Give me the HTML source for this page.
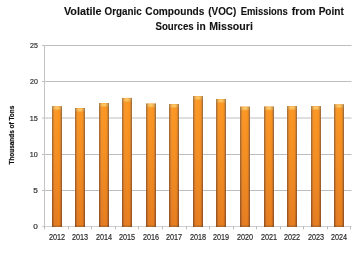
<!DOCTYPE html>
<html><head><meta charset="utf-8">
<style>
html,body{margin:0;padding:0;background:#fff;width:360px;height:270px;overflow:hidden}
svg{display:block;will-change:transform}
text{font-family:"Liberation Sans",sans-serif}
.t{font-weight:bold;font-size:10.4px;fill:#111;stroke:#111;stroke-width:0.1px}
.yl{font-size:7.9px;fill:#2a2a2a;stroke:#2a2a2a;stroke-width:0.18px}
.xl{font-size:8.2px;fill:#2a2a2a;stroke:#2a2a2a;stroke-width:0.18px}
.ya{font-weight:bold;font-size:6.8px;fill:#111;stroke:#111;stroke-width:0.2px}
</style></head><body>
<svg width="360" height="270" viewBox="0 0 360 270">
<defs>
<linearGradient id="c0" gradientUnits="userSpaceOnUse" x1="0" y1="96" x2="0" y2="227"><stop offset="0" stop-color="#b07438"/><stop offset="0.45" stop-color="#a8682f"/><stop offset="1" stop-color="#9a5420"/></linearGradient>
<linearGradient id="c1" gradientUnits="userSpaceOnUse" x1="0" y1="96" x2="0" y2="227"><stop offset="0" stop-color="#da8a30"/><stop offset="0.45" stop-color="#d17e2b"/><stop offset="1" stop-color="#c26a24"/></linearGradient>
<linearGradient id="c2" gradientUnits="userSpaceOnUse" x1="0" y1="96" x2="0" y2="227"><stop offset="0" stop-color="#f8982a"/><stop offset="0.45" stop-color="#ee8d28"/><stop offset="1" stop-color="#de7a26"/></linearGradient>
<linearGradient id="c3" gradientUnits="userSpaceOnUse" x1="0" y1="96" x2="0" y2="227"><stop offset="0" stop-color="#fc9a28"/><stop offset="0.45" stop-color="#f28f26"/><stop offset="1" stop-color="#e27c24"/></linearGradient>
<linearGradient id="c4" gradientUnits="userSpaceOnUse" x1="0" y1="96" x2="0" y2="227"><stop offset="0" stop-color="#fd9a26"/><stop offset="0.45" stop-color="#f48f24"/><stop offset="1" stop-color="#e47c22"/></linearGradient>
<linearGradient id="c5" gradientUnits="userSpaceOnUse" x1="0" y1="96" x2="0" y2="227"><stop offset="0" stop-color="#fd9924"/><stop offset="0.45" stop-color="#f48f22"/><stop offset="1" stop-color="#e67e20"/></linearGradient>
<linearGradient id="c6" gradientUnits="userSpaceOnUse" x1="0" y1="96" x2="0" y2="227"><stop offset="0" stop-color="#fc9822"/><stop offset="0.45" stop-color="#f48e20"/><stop offset="1" stop-color="#e67e1e"/></linearGradient>
<linearGradient id="c7" gradientUnits="userSpaceOnUse" x1="0" y1="96" x2="0" y2="227"><stop offset="0" stop-color="#f89422"/><stop offset="0.45" stop-color="#f08a20"/><stop offset="1" stop-color="#e27a1e"/></linearGradient>
<linearGradient id="c8" gradientUnits="userSpaceOnUse" x1="0" y1="96" x2="0" y2="227"><stop offset="0" stop-color="#da8830"/><stop offset="0.45" stop-color="#d17d2b"/><stop offset="1" stop-color="#c26a22"/></linearGradient>
<linearGradient id="c9" gradientUnits="userSpaceOnUse" x1="0" y1="96" x2="0" y2="227"><stop offset="0" stop-color="#a87038"/><stop offset="0.45" stop-color="#a2652f"/><stop offset="1" stop-color="#985420"/></linearGradient>
<linearGradient id="caph" x1="0" y1="0" x2="1" y2="0"><stop offset="0" stop-color="#9a7a48"/><stop offset="0.15" stop-color="#d4a058"/><stop offset="0.3" stop-color="#fac868"/><stop offset="0.6" stop-color="#fdd272"/><stop offset="0.85" stop-color="#d4a058"/><stop offset="1" stop-color="#967444"/></linearGradient>
<linearGradient id="capv" x1="0" y1="0" x2="0" y2="1"><stop offset="0" stop-color="#fff" stop-opacity="0.45"/><stop offset="0.42" stop-color="#fff" stop-opacity="1"/><stop offset="1" stop-color="#fff" stop-opacity="0"/></linearGradient>
<mask id="capm" maskContentUnits="objectBoundingBox"><rect x="0" y="0" width="1" height="1" fill="url(#capv)"/></mask>
</defs>
<text x="63.91" y="15" class="t" textLength="37.71" lengthAdjust="spacingAndGlyphs">Volatile</text>
<text x="104.59" y="15" class="t" textLength="37.22" lengthAdjust="spacingAndGlyphs">Organic</text>
<text x="145.37" y="15" class="t" textLength="59.04" lengthAdjust="spacingAndGlyphs">Compounds</text>
<text x="208.26" y="15" class="t" textLength="28.03" lengthAdjust="spacingAndGlyphs">(VOC)</text>
<text x="240.63" y="15" class="t" textLength="47.25" lengthAdjust="spacingAndGlyphs">Emissions</text>
<text x="291.81" y="15" class="t" textLength="23.84" lengthAdjust="spacingAndGlyphs">from</text>
<text x="318.63" y="15" class="t" textLength="25.25" lengthAdjust="spacingAndGlyphs">Point</text>
<text x="155.51" y="29.7" class="t" textLength="38.18" lengthAdjust="spacingAndGlyphs">Sources</text>
<text x="196.59" y="29.7" class="t" textLength="9.05" lengthAdjust="spacingAndGlyphs">in</text>
<text x="209.30" y="29.7" class="t" textLength="43.54" lengthAdjust="spacingAndGlyphs">Missouri</text>
<text transform="translate(13.9,164.48) rotate(-90)" x="0" y="0" class="ya" textLength="58.73" lengthAdjust="spacingAndGlyphs">Thousands of Tons</text>
<line x1="42" y1="226.5" x2="44.5" y2="226.5" stroke="#bebec2" stroke-width="1"/>
<text x="33.37" y="229.30" class="yl" textLength="4.54" lengthAdjust="spacingAndGlyphs">0</text>
<line x1="42" y1="190.5" x2="351.5" y2="190.5" stroke="#bebec2" stroke-width="1"/>
<text x="33.37" y="193.30" class="yl" textLength="4.58" lengthAdjust="spacingAndGlyphs">5</text>
<line x1="42" y1="154.5" x2="351.5" y2="154.5" stroke="#bebec2" stroke-width="1"/>
<text x="29.85" y="157.30" class="yl" textLength="8.02" lengthAdjust="spacingAndGlyphs">10</text>
<line x1="42" y1="118" x2="351.5" y2="118" stroke="#bebec2" stroke-width="1"/>
<text x="29.85" y="120.80" class="yl" textLength="8.06" lengthAdjust="spacingAndGlyphs">15</text>
<line x1="42" y1="81.5" x2="351.5" y2="81.5" stroke="#bebec2" stroke-width="1"/>
<text x="30.05" y="84.30" class="yl" textLength="7.82" lengthAdjust="spacingAndGlyphs">20</text>
<line x1="42" y1="45.5" x2="351.5" y2="45.5" stroke="#bebec2" stroke-width="1"/>
<text x="30.05" y="48.30" class="yl" textLength="7.85" lengthAdjust="spacingAndGlyphs">25</text>
<line x1="44.5" y1="45" x2="44.5" y2="227" stroke="#c4c4c4" stroke-width="1"/>
<line x1="42" y1="226.5" x2="351.5" y2="226.5" stroke="#d0d0d4" stroke-width="1"/>
<line x1="44.5" y1="226" x2="44.5" y2="229.3" stroke="#bcbcbc" stroke-width="1"/>
<line x1="68.5" y1="226" x2="68.5" y2="229.3" stroke="#bcbcbc" stroke-width="1"/>
<line x1="91.5" y1="226" x2="91.5" y2="229.3" stroke="#bcbcbc" stroke-width="1"/>
<line x1="115.5" y1="226" x2="115.5" y2="229.3" stroke="#bcbcbc" stroke-width="1"/>
<line x1="138.5" y1="226" x2="138.5" y2="229.3" stroke="#bcbcbc" stroke-width="1"/>
<line x1="162.5" y1="226" x2="162.5" y2="229.3" stroke="#bcbcbc" stroke-width="1"/>
<line x1="186.5" y1="226" x2="186.5" y2="229.3" stroke="#bcbcbc" stroke-width="1"/>
<line x1="209.5" y1="226" x2="209.5" y2="229.3" stroke="#bcbcbc" stroke-width="1"/>
<line x1="233.5" y1="226" x2="233.5" y2="229.3" stroke="#bcbcbc" stroke-width="1"/>
<line x1="256.5" y1="226" x2="256.5" y2="229.3" stroke="#bcbcbc" stroke-width="1"/>
<line x1="280.5" y1="226" x2="280.5" y2="229.3" stroke="#bcbcbc" stroke-width="1"/>
<line x1="303.5" y1="226" x2="303.5" y2="229.3" stroke="#bcbcbc" stroke-width="1"/>
<line x1="327.5" y1="226" x2="327.5" y2="229.3" stroke="#bcbcbc" stroke-width="1"/>
<line x1="350.5" y1="226" x2="350.5" y2="229.3" stroke="#bcbcbc" stroke-width="1"/>
<rect x="52" y="106.20" width="1" height="120.80" fill="url(#c0)"/>
<rect x="53" y="106.20" width="1" height="120.80" fill="url(#c1)"/>
<rect x="54" y="106.20" width="1" height="120.80" fill="url(#c2)"/>
<rect x="55" y="106.20" width="1" height="120.80" fill="url(#c3)"/>
<rect x="56" y="106.20" width="1" height="120.80" fill="url(#c4)"/>
<rect x="57" y="106.20" width="1" height="120.80" fill="url(#c5)"/>
<rect x="58" y="106.20" width="1" height="120.80" fill="url(#c6)"/>
<rect x="59" y="106.20" width="1" height="120.80" fill="url(#c7)"/>
<rect x="60" y="106.20" width="1" height="120.80" fill="url(#c8)"/>
<rect x="61" y="106.20" width="1" height="120.80" fill="url(#c9)"/>
<rect x="52" y="106.20" width="10" height="4.5" fill="url(#caph)" mask="url(#capm)"/>
<rect x="52" y="225.5" width="10" height="1.5" fill="#6a4a30" fill-opacity="0.35"/>
<text x="48.89" y="240.1" class="xl" textLength="16.23" lengthAdjust="spacingAndGlyphs">2012</text>
<rect x="75" y="108.00" width="1" height="119.00" fill="url(#c0)"/>
<rect x="76" y="108.00" width="1" height="119.00" fill="url(#c1)"/>
<rect x="77" y="108.00" width="1" height="119.00" fill="url(#c2)"/>
<rect x="78" y="108.00" width="1" height="119.00" fill="url(#c3)"/>
<rect x="79" y="108.00" width="1" height="119.00" fill="url(#c4)"/>
<rect x="80" y="108.00" width="1" height="119.00" fill="url(#c5)"/>
<rect x="81" y="108.00" width="1" height="119.00" fill="url(#c6)"/>
<rect x="82" y="108.00" width="1" height="119.00" fill="url(#c7)"/>
<rect x="83" y="108.00" width="1" height="119.00" fill="url(#c8)"/>
<rect x="84" y="108.00" width="1" height="119.00" fill="url(#c9)"/>
<rect x="75" y="108.00" width="10" height="4.5" fill="url(#caph)" mask="url(#capm)"/>
<rect x="75" y="225.5" width="10" height="1.5" fill="#6a4a30" fill-opacity="0.35"/>
<text x="71.89" y="240.1" class="xl" textLength="16.19" lengthAdjust="spacingAndGlyphs">2013</text>
<rect x="99" y="103.10" width="1" height="123.90" fill="url(#c0)"/>
<rect x="100" y="103.10" width="1" height="123.90" fill="url(#c1)"/>
<rect x="101" y="103.10" width="1" height="123.90" fill="url(#c2)"/>
<rect x="102" y="103.10" width="1" height="123.90" fill="url(#c3)"/>
<rect x="103" y="103.10" width="1" height="123.90" fill="url(#c4)"/>
<rect x="104" y="103.10" width="1" height="123.90" fill="url(#c5)"/>
<rect x="105" y="103.10" width="1" height="123.90" fill="url(#c6)"/>
<rect x="106" y="103.10" width="1" height="123.90" fill="url(#c7)"/>
<rect x="107" y="103.10" width="1" height="123.90" fill="url(#c8)"/>
<rect x="108" y="103.10" width="1" height="123.90" fill="url(#c9)"/>
<rect x="99" y="103.10" width="10" height="4.5" fill="url(#caph)" mask="url(#capm)"/>
<rect x="99" y="225.5" width="10" height="1.5" fill="#6a4a30" fill-opacity="0.35"/>
<text x="95.89" y="240.1" class="xl" textLength="16.08" lengthAdjust="spacingAndGlyphs">2014</text>
<rect x="122" y="97.90" width="1" height="129.10" fill="url(#c0)"/>
<rect x="123" y="97.90" width="1" height="129.10" fill="url(#c1)"/>
<rect x="124" y="97.90" width="1" height="129.10" fill="url(#c2)"/>
<rect x="125" y="97.90" width="1" height="129.10" fill="url(#c3)"/>
<rect x="126" y="97.90" width="1" height="129.10" fill="url(#c4)"/>
<rect x="127" y="97.90" width="1" height="129.10" fill="url(#c5)"/>
<rect x="128" y="97.90" width="1" height="129.10" fill="url(#c6)"/>
<rect x="129" y="97.90" width="1" height="129.10" fill="url(#c7)"/>
<rect x="130" y="97.90" width="1" height="129.10" fill="url(#c8)"/>
<rect x="131" y="97.90" width="1" height="129.10" fill="url(#c9)"/>
<rect x="122" y="97.90" width="10" height="4.5" fill="url(#caph)" mask="url(#capm)"/>
<rect x="122" y="225.5" width="10" height="1.5" fill="#6a4a30" fill-opacity="0.35"/>
<text x="118.89" y="240.1" class="xl" textLength="16.17" lengthAdjust="spacingAndGlyphs">2015</text>
<rect x="146" y="103.50" width="1" height="123.50" fill="url(#c0)"/>
<rect x="147" y="103.50" width="1" height="123.50" fill="url(#c1)"/>
<rect x="148" y="103.50" width="1" height="123.50" fill="url(#c2)"/>
<rect x="149" y="103.50" width="1" height="123.50" fill="url(#c3)"/>
<rect x="150" y="103.50" width="1" height="123.50" fill="url(#c4)"/>
<rect x="151" y="103.50" width="1" height="123.50" fill="url(#c5)"/>
<rect x="152" y="103.50" width="1" height="123.50" fill="url(#c6)"/>
<rect x="153" y="103.50" width="1" height="123.50" fill="url(#c7)"/>
<rect x="154" y="103.50" width="1" height="123.50" fill="url(#c8)"/>
<rect x="155" y="103.50" width="1" height="123.50" fill="url(#c9)"/>
<rect x="146" y="103.50" width="10" height="4.5" fill="url(#caph)" mask="url(#capm)"/>
<rect x="146" y="225.5" width="10" height="1.5" fill="#6a4a30" fill-opacity="0.35"/>
<text x="142.89" y="240.1" class="xl" textLength="16.19" lengthAdjust="spacingAndGlyphs">2016</text>
<rect x="169" y="104.00" width="1" height="123.00" fill="url(#c0)"/>
<rect x="170" y="104.00" width="1" height="123.00" fill="url(#c1)"/>
<rect x="171" y="104.00" width="1" height="123.00" fill="url(#c2)"/>
<rect x="172" y="104.00" width="1" height="123.00" fill="url(#c3)"/>
<rect x="173" y="104.00" width="1" height="123.00" fill="url(#c4)"/>
<rect x="174" y="104.00" width="1" height="123.00" fill="url(#c5)"/>
<rect x="175" y="104.00" width="1" height="123.00" fill="url(#c6)"/>
<rect x="176" y="104.00" width="1" height="123.00" fill="url(#c7)"/>
<rect x="177" y="104.00" width="1" height="123.00" fill="url(#c8)"/>
<rect x="178" y="104.00" width="1" height="123.00" fill="url(#c9)"/>
<rect x="169" y="104.00" width="10" height="4.5" fill="url(#caph)" mask="url(#capm)"/>
<rect x="169" y="225.5" width="10" height="1.5" fill="#6a4a30" fill-opacity="0.35"/>
<text x="165.89" y="240.1" class="xl" textLength="16.23" lengthAdjust="spacingAndGlyphs">2017</text>
<rect x="193" y="96.10" width="1" height="130.90" fill="url(#c0)"/>
<rect x="194" y="96.10" width="1" height="130.90" fill="url(#c1)"/>
<rect x="195" y="96.10" width="1" height="130.90" fill="url(#c2)"/>
<rect x="196" y="96.10" width="1" height="130.90" fill="url(#c3)"/>
<rect x="197" y="96.10" width="1" height="130.90" fill="url(#c4)"/>
<rect x="198" y="96.10" width="1" height="130.90" fill="url(#c5)"/>
<rect x="199" y="96.10" width="1" height="130.90" fill="url(#c6)"/>
<rect x="200" y="96.10" width="1" height="130.90" fill="url(#c7)"/>
<rect x="201" y="96.10" width="1" height="130.90" fill="url(#c8)"/>
<rect x="202" y="96.10" width="1" height="130.90" fill="url(#c9)"/>
<rect x="193" y="96.10" width="10" height="4.5" fill="url(#caph)" mask="url(#capm)"/>
<rect x="193" y="225.5" width="10" height="1.5" fill="#6a4a30" fill-opacity="0.35"/>
<text x="189.89" y="240.1" class="xl" textLength="16.19" lengthAdjust="spacingAndGlyphs">2018</text>
<rect x="216" y="99.00" width="1" height="128.00" fill="url(#c0)"/>
<rect x="217" y="99.00" width="1" height="128.00" fill="url(#c1)"/>
<rect x="218" y="99.00" width="1" height="128.00" fill="url(#c2)"/>
<rect x="219" y="99.00" width="1" height="128.00" fill="url(#c3)"/>
<rect x="220" y="99.00" width="1" height="128.00" fill="url(#c4)"/>
<rect x="221" y="99.00" width="1" height="128.00" fill="url(#c5)"/>
<rect x="222" y="99.00" width="1" height="128.00" fill="url(#c6)"/>
<rect x="223" y="99.00" width="1" height="128.00" fill="url(#c7)"/>
<rect x="224" y="99.00" width="1" height="128.00" fill="url(#c8)"/>
<rect x="225" y="99.00" width="1" height="128.00" fill="url(#c9)"/>
<rect x="216" y="99.00" width="10" height="4.5" fill="url(#caph)" mask="url(#capm)"/>
<rect x="216" y="225.5" width="10" height="1.5" fill="#6a4a30" fill-opacity="0.35"/>
<text x="212.89" y="240.1" class="xl" textLength="16.22" lengthAdjust="spacingAndGlyphs">2019</text>
<rect x="240" y="106.60" width="1" height="120.40" fill="url(#c0)"/>
<rect x="241" y="106.60" width="1" height="120.40" fill="url(#c1)"/>
<rect x="242" y="106.60" width="1" height="120.40" fill="url(#c2)"/>
<rect x="243" y="106.60" width="1" height="120.40" fill="url(#c3)"/>
<rect x="244" y="106.60" width="1" height="120.40" fill="url(#c4)"/>
<rect x="245" y="106.60" width="1" height="120.40" fill="url(#c5)"/>
<rect x="246" y="106.60" width="1" height="120.40" fill="url(#c6)"/>
<rect x="247" y="106.60" width="1" height="120.40" fill="url(#c7)"/>
<rect x="248" y="106.60" width="1" height="120.40" fill="url(#c8)"/>
<rect x="249" y="106.60" width="1" height="120.40" fill="url(#c9)"/>
<rect x="240" y="106.60" width="10" height="4.5" fill="url(#caph)" mask="url(#capm)"/>
<rect x="240" y="225.5" width="10" height="1.5" fill="#6a4a30" fill-opacity="0.35"/>
<text x="236.89" y="240.1" class="xl" textLength="16.14" lengthAdjust="spacingAndGlyphs">2020</text>
<rect x="264" y="106.50" width="1" height="120.50" fill="url(#c0)"/>
<rect x="265" y="106.50" width="1" height="120.50" fill="url(#c1)"/>
<rect x="266" y="106.50" width="1" height="120.50" fill="url(#c2)"/>
<rect x="267" y="106.50" width="1" height="120.50" fill="url(#c3)"/>
<rect x="268" y="106.50" width="1" height="120.50" fill="url(#c4)"/>
<rect x="269" y="106.50" width="1" height="120.50" fill="url(#c5)"/>
<rect x="270" y="106.50" width="1" height="120.50" fill="url(#c6)"/>
<rect x="271" y="106.50" width="1" height="120.50" fill="url(#c7)"/>
<rect x="272" y="106.50" width="1" height="120.50" fill="url(#c8)"/>
<rect x="273" y="106.50" width="1" height="120.50" fill="url(#c9)"/>
<rect x="264" y="106.50" width="10" height="4.5" fill="url(#caph)" mask="url(#capm)"/>
<rect x="264" y="225.5" width="10" height="1.5" fill="#6a4a30" fill-opacity="0.35"/>
<text x="260.89" y="240.1" class="xl" textLength="16.22" lengthAdjust="spacingAndGlyphs">2021</text>
<rect x="287" y="106.00" width="1" height="121.00" fill="url(#c0)"/>
<rect x="288" y="106.00" width="1" height="121.00" fill="url(#c1)"/>
<rect x="289" y="106.00" width="1" height="121.00" fill="url(#c2)"/>
<rect x="290" y="106.00" width="1" height="121.00" fill="url(#c3)"/>
<rect x="291" y="106.00" width="1" height="121.00" fill="url(#c4)"/>
<rect x="292" y="106.00" width="1" height="121.00" fill="url(#c5)"/>
<rect x="293" y="106.00" width="1" height="121.00" fill="url(#c6)"/>
<rect x="294" y="106.00" width="1" height="121.00" fill="url(#c7)"/>
<rect x="295" y="106.00" width="1" height="121.00" fill="url(#c8)"/>
<rect x="296" y="106.00" width="1" height="121.00" fill="url(#c9)"/>
<rect x="287" y="106.00" width="10" height="4.5" fill="url(#caph)" mask="url(#capm)"/>
<rect x="287" y="225.5" width="10" height="1.5" fill="#6a4a30" fill-opacity="0.35"/>
<text x="283.89" y="240.1" class="xl" textLength="16.23" lengthAdjust="spacingAndGlyphs">2022</text>
<rect x="311" y="106.10" width="1" height="120.90" fill="url(#c0)"/>
<rect x="312" y="106.10" width="1" height="120.90" fill="url(#c1)"/>
<rect x="313" y="106.10" width="1" height="120.90" fill="url(#c2)"/>
<rect x="314" y="106.10" width="1" height="120.90" fill="url(#c3)"/>
<rect x="315" y="106.10" width="1" height="120.90" fill="url(#c4)"/>
<rect x="316" y="106.10" width="1" height="120.90" fill="url(#c5)"/>
<rect x="317" y="106.10" width="1" height="120.90" fill="url(#c6)"/>
<rect x="318" y="106.10" width="1" height="120.90" fill="url(#c7)"/>
<rect x="319" y="106.10" width="1" height="120.90" fill="url(#c8)"/>
<rect x="320" y="106.10" width="1" height="120.90" fill="url(#c9)"/>
<rect x="311" y="106.10" width="10" height="4.5" fill="url(#caph)" mask="url(#capm)"/>
<rect x="311" y="225.5" width="10" height="1.5" fill="#6a4a30" fill-opacity="0.35"/>
<text x="307.89" y="240.1" class="xl" textLength="16.19" lengthAdjust="spacingAndGlyphs">2023</text>
<rect x="334" y="104.30" width="1" height="122.70" fill="url(#c0)"/>
<rect x="335" y="104.30" width="1" height="122.70" fill="url(#c1)"/>
<rect x="336" y="104.30" width="1" height="122.70" fill="url(#c2)"/>
<rect x="337" y="104.30" width="1" height="122.70" fill="url(#c3)"/>
<rect x="338" y="104.30" width="1" height="122.70" fill="url(#c4)"/>
<rect x="339" y="104.30" width="1" height="122.70" fill="url(#c5)"/>
<rect x="340" y="104.30" width="1" height="122.70" fill="url(#c6)"/>
<rect x="341" y="104.30" width="1" height="122.70" fill="url(#c7)"/>
<rect x="342" y="104.30" width="1" height="122.70" fill="url(#c8)"/>
<rect x="343" y="104.30" width="1" height="122.70" fill="url(#c9)"/>
<rect x="334" y="104.30" width="10" height="4.5" fill="url(#caph)" mask="url(#capm)"/>
<rect x="334" y="225.5" width="10" height="1.5" fill="#6a4a30" fill-opacity="0.35"/>
<text x="330.89" y="240.1" class="xl" textLength="16.08" lengthAdjust="spacingAndGlyphs">2024</text>
</svg>
</body></html>
